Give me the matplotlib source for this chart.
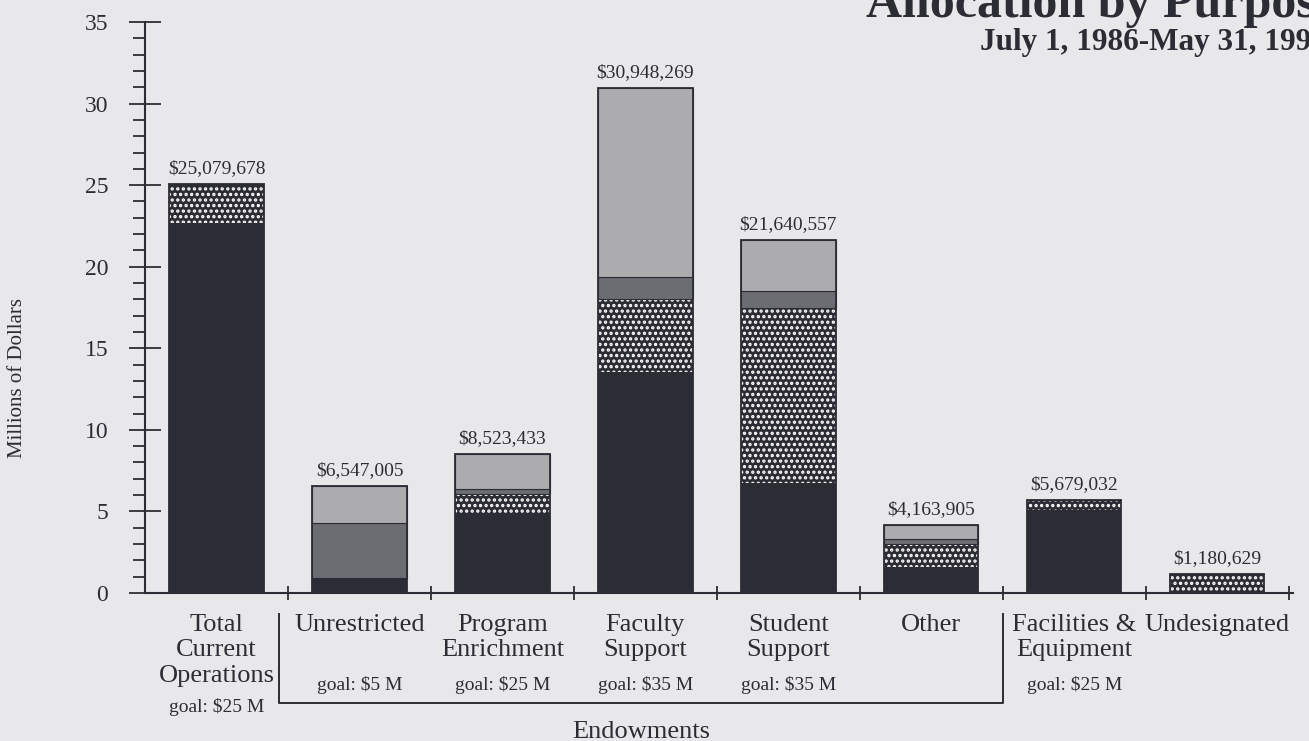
import numpy as np
import matplotlib
matplotlib.use('Agg')
import matplotlib.pyplot as plt
from matplotlib.ticker import MultipleLocator

# Data (millions of dollars)
categories = ["Total\nCurrent\nOperations", "Unrestricted", "Program\nEnrichment",
              "Faculty\nSupport", "Student\nSupport", "Other",
              "Facilities &\nEquipment", "Undesignated"]
goals = ["goal: $25 M", "goal: $5 M", "goal: $25 M", "goal: $35 M",
         "goal: $35 M", "", "goal: $25 M", ""]
totals_usd = [25079678, 6547005, 8523433, 30948269, 21640557, 4163905, 5679032, 1180629]

solid = [22.70, 0.92, 4.86, 13.55, 6.73, 1.61, 5.08, 0.00]
dotted = [2.38, 0.00, 1.21, 4.48, 10.72, 1.39, 0.60, 1.18]
mid = [0.00, 3.37, 0.28, 1.36, 1.09, 0.31, 0.00, 0.00]
light = [0.00, 2.26, 2.17, 11.56, 3.10, 0.85, 0.00, 0.00]

bg = '#e8e8ea'
ink = '#2c2c34'
plt.rcParams['font.family'] = ['Liberation Serif', 'DejaVu Serif']
plt.rcParams['hatch.linewidth'] = 1.6

fig = plt.figure(figsize=(13.09, 7.41), dpi=100, facecolor=bg)
ax = fig.add_axes([145/1309, 1-593/741, (1293-145)/1309, (593-22)/741])
ax.set_facecolor(bg)

x = np.arange(len(categories))
w = 0.66
totals = np.array(totals_usd) / 1e6

# stacked segments
bottom = np.zeros(len(x))
ax.bar(x, solid, w, bottom=bottom, color=ink, linewidth=0)
bottom += solid
ax.bar(x, dotted, w, bottom=bottom, color=ink, edgecolor='white', hatch='...', linewidth=0)
bottom += dotted
ax.bar(x, mid, w, bottom=bottom, color='#6c6c73', edgecolor=ink, linewidth=0.8)
bottom += mid
ax.bar(x, light, w, bottom=bottom, color='#acacaf', edgecolor=ink, linewidth=0.8)

# outline and value labels
outline = ax.bar(x, totals, w, fill=False, edgecolor=ink, linewidth=1.3)
ax.bar_label(outline, labels=[f"${v:,}" for v in totals_usd], padding=5,
             fontsize=14, color=ink)

ax.set_xlim(-0.5, 7.53)
ax.set_ylim(0, 35)
for s in ['top', 'right']:
    ax.spines[s].set_visible(False)
for s in ['left', 'bottom']:
    ax.spines[s].set_color(ink)
    ax.spines[s].set_linewidth(1.5)

ax.set_yticks(range(0, 36, 5))
ax.yaxis.set_minor_locator(MultipleLocator(1))
ax.tick_params(axis='y', which='major', direction='inout', length=23, width=1.3,
               color=ink, labelsize=17, labelcolor=ink, pad=15)
ax.tick_params(axis='y', which='minor', direction='out', length=9, width=1.3, color=ink)
ax.set_xticks(np.arange(0.5, 8, 1))
ax.set_xticklabels([])
ax.tick_params(axis='x', which='major', direction='inout', length=10, width=1.3, color=ink)
fig.text(18/1309, 1-378/741, "Millions of Dollars", rotation=90, fontsize=15,
         color=ink, ha='center', va='center')

# category labels and goals
tr = ax.get_xaxis_transform()
for i, (c, g) in enumerate(zip(categories, goals)):
    ax.text(i, -0.036, c, transform=tr, ha='center', va='top', fontsize=19,
            color=ink, linespacing=1.22)
    gy = -0.2004 if i == 0 else -0.1604
    if g:
        ax.text(i, gy, g, transform=tr, ha='center', va='center', fontsize=14, color=ink)

# endowments bracket
ax.plot([0.44, 0.44, 5.5, 5.5], [-0.0368, -0.1926, -0.1926, -0.0368], transform=tr,
        color=ink, linewidth=1.4, clip_on=False)
ax.text(2.97, -0.2435, "Endowments", transform=tr, ha='center', va='center',
        fontsize=19, color=ink)

# title (cut at the page edge in the original scan)
fig.text(866/1309, 1-17/741, "Allocation by Purpose", fontsize=36, fontweight='bold',
         color=ink, va='baseline', ha='left')
fig.text(980/1309, 1-50/741, "July 1, 1986-May 31, 1990", fontsize=22.5, fontweight='bold',
         color=ink, va='baseline', ha='left')

fig.savefig('out.png', dpi=100, facecolor=bg)
